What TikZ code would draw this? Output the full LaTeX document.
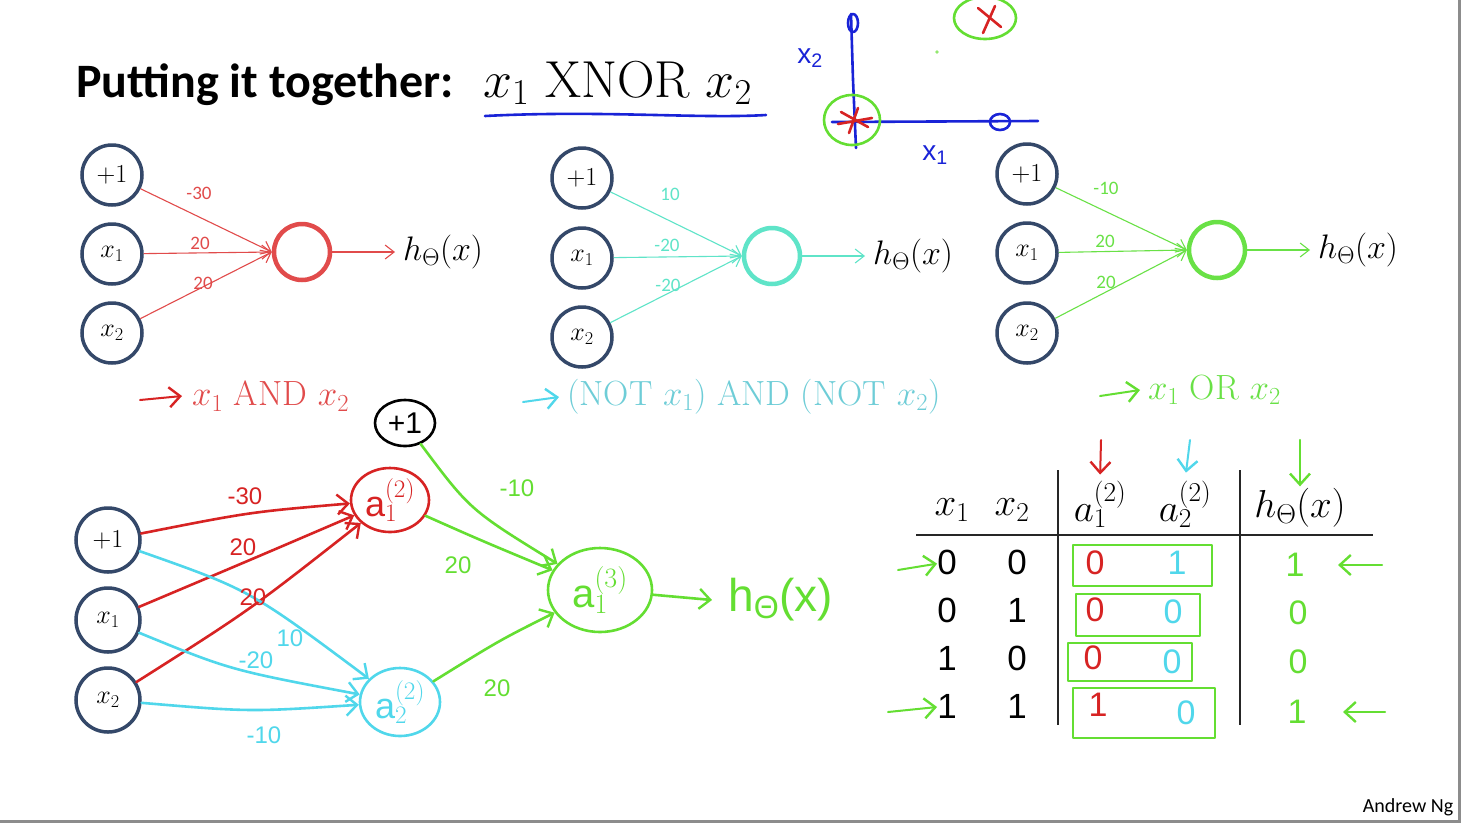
\RequirePackage{fix-cm}
\documentclass[tikz,border=0pt]{standalone}
\usepackage{fontspec}
\setsansfont{Liberation Sans}
\newfontfamily\slidefont{Carlito}
\newfontfamily\handfont{Liberation Sans}
\usetikzlibrary{arrows.meta,positioning,shapes.geometric}
\newcommand\pxfont[1]{\fontsize{#1}{#1}\selectfont}
\definecolor{unitblue}{RGB}{52,72,105}
\definecolor{andred}{RGB}{225,75,75}
\definecolor{noraqua}{RGB}{95,228,200}
\definecolor{orgreen}{RGB}{105,225,70}
\definecolor{capaqua}{RGB}{110,205,215}
\definecolor{handred}{RGB}{215,35,35}
\definecolor{handcyan}{RGB}{80,215,235}
\definecolor{handgreen}{RGB}{100,222,50}
\definecolor{handblue}{RGB}{25,35,215}
\tikzset{
  input unit/.style={circle,draw=unitblue,line width=3.5pt,minimum size=60pt,inner sep=0pt,font=\pxfont{26}},
  output unit/.style={circle,draw,line width=4.5pt,minimum size=56pt,inner sep=0pt},
  thin edge/.style={-{Straight Barb[length=9pt,width=14pt]},line width=1.1pt},
  weight/.style={font=\slidefont\pxfont{19},inner sep=0pt},
  caption/.style={font=\pxfont{35},inner sep=0pt,anchor=west},
  hand/.style={line width=2.6pt,line cap=round,line join=round},
  hand edge/.style={hand,-{Straight Barb[length=11pt,width=20pt,line width=2.4pt]}},
  hand node/.style={ellipse,draw,hand,inner sep=0pt,font=\handfont\pxfont{30}},
  hand label/.style={font=\handfont\pxfont{24},inner sep=0pt},
  thead/.style={font=\pxfont{39},inner sep=0pt},
  tdigit/.style={font=\sffamily\pxfont{35},inner sep=0pt},
  tmark/.style={font=\handfont\pxfont{34},inner sep=0pt},
}
\begin{document}
\begin{tikzpicture}[x=1pt,y=-1pt]
  \useasboundingbox[fill=white] (0,0) rectangle (1461,823);
  % title
  \node[anchor=base west,inner sep=0pt,font=\slidefont\bfseries\pxfont{48}] (title) at (76,97) {Putting it together:};
  \node[anchor=base west,inner sep=0pt,font=\pxfont{52}] (xnor) at (483,97) {$x_1\ \mathrm{XNOR}\ x_2$};
  \draw[hand,handblue] (485,116) .. controls (600,110) and (700,119) .. (766,115);

  % sketch of the four points
  \draw[hand,handblue] (851,14) -- (853,80) -- (856,148);
  \draw[hand,handblue] (832,122) -- (1038,121);
  \draw[hand,handblue] (853,23) ellipse (5 and 9);
  \draw[hand,handblue] (1000,122) ellipse (10 and 8);
  \node[hand label,text=handblue,font=\handfont\pxfont{28}] (lx2) at (810,58) {x\textsubscript{2}};
  \node[hand label,text=handblue,font=\handfont\pxfont{28}] (lx1) at (935,155) {x\textsubscript{1}};
  \draw[hand,handgreen] (852,120) ellipse (28 and 25);
  \draw[hand,handred] (841,112) -- (868,127);
  \draw[hand,handred] (858,108) -- (849,133);
  \draw[hand,handred] (838,124) -- (872,118);
  \draw[hand,handgreen] (985,18) ellipse (31 and 21);
  \draw[hand,handred] (978,8) -- (1001,27);
  \draw[hand,handred] (995,6) -- (983,33);
  \fill[handgreen!70] (937,52) circle (1.8);

  % AND network
  \node[input unit] (ap) at (112,175) {$+1$};
  \node[input unit] (ax1) at (112,254) {$x_1$};
  \node[input unit] (ax2) at (112,333) {$x_2$};
  \node[output unit,draw=andred] (aout) at (302,252) {};
  \node[anchor=west,inner sep=0pt,font=\pxfont{34}] (ah) at (403,252) {$h_\Theta(x)$};
  \draw[thin edge,andred] (ap) -- (aout.west);
  \draw[thin edge,andred] (ax1) -- (aout.west);
  \draw[thin edge,andred] (ax2) -- (aout.west);
  \draw[thin edge,andred] (aout) -- ([xshift=-8pt]ah.west);
  \node[weight,text=andred] (aw0) at (199,193) {-30};
  \node[weight,text=andred] (aw1) at (200,243) {20};
  \node[weight,text=andred] (aw2) at (203,283) {20};
  \coordinate (acap) at (140,400);
  \node[caption,text=andred] (acaption) at (192,396) {$x_1$ AND $x_2$};
  \draw[hand edge,handred,line width=2pt] (acap) -- ([xshift=-10pt]acaption.west);

  % NOT AND NOT network
  \node[input unit] (np) at (582,178) {$+1$};
  \node[input unit] (nx1) at (582,258) {$x_1$};
  \node[input unit] (nx2) at (582,337) {$x_2$};
  \node[output unit,draw=noraqua] (nout) at (772,256) {};
  \node[anchor=west,inner sep=0pt,font=\pxfont{34}] (nh) at (873,256) {$h_\Theta(x)$};
  \draw[thin edge,noraqua] (np) -- (nout.west);
  \draw[thin edge,noraqua] (nx1) -- (nout.west);
  \draw[thin edge,noraqua] (nx2) -- (nout.west);
  \draw[thin edge,noraqua] (nout) -- ([xshift=-8pt]nh.west);
  \node[weight,text=noraqua] (nw0) at (670,194) {10};
  \node[weight,text=noraqua] (nw1) at (667,245) {-20};
  \node[weight,text=noraqua] (nw2) at (668,285) {-20};
  \coordinate (ncap) at (523,402);
  \node[caption,text=capaqua] (ncaption) at (567,397) {(NOT $x_1$) AND (NOT $x_2$)};
  \draw[hand edge,handcyan,line width=2pt] (ncap) -- ([xshift=-8pt]ncaption.west);

  % OR network
  \node[input unit] (op) at (1027,174) {$+1$};
  \node[input unit] (ox1) at (1027,253) {$x_1$};
  \node[input unit] (ox2) at (1027,333) {$x_2$};
  \node[output unit,draw=orgreen] (oout) at (1217,250) {};
  \node[anchor=west,inner sep=0pt,font=\pxfont{34}] (oh) at (1318,250) {$h_\Theta(x)$};
  \draw[thin edge,orgreen] (op) -- (oout.west);
  \draw[thin edge,orgreen] (ox1) -- (oout.west);
  \draw[thin edge,orgreen] (ox2) -- (oout.west);
  \draw[thin edge,orgreen] (oout) -- ([xshift=-8pt]oh.west);
  \node[weight,text=orgreen] (ow0) at (1106,188) {-10};
  \node[weight,text=orgreen] (ow1) at (1105,241) {20};
  \node[weight,text=orgreen] (ow2) at (1106,282) {20};
  \coordinate (ocap) at (1100,396);
  \node[caption,text=orgreen] (ocaption) at (1148,390) {$x_1$ OR $x_2$};
  \draw[hand edge,handgreen,line width=2pt] (ocap) -- ([xshift=-8pt]ocaption.west);

  % XNOR network
  \node[input unit,minimum size=64pt] (bp) at (108,540) {$+1$};
  \node[input unit,minimum size=64pt] (bx1) at (108,620) {$x_1$};
  \node[input unit,minimum size=64pt] (bx2) at (108,700) {$x_2$};
  \node[hand node,draw=black,minimum width=60pt,minimum height=46pt] (hb) at (405,423) {+1};
  \node[hand node,draw=handred,text=handred,minimum width=78pt,minimum height=64pt,font=\pxfont{36}] (ha1) at (390,500) {$\mathsf{a}^{(2)}_1$};
  \node[hand node,draw=handcyan,text=handcyan,minimum width=80pt,minimum height=68pt,font=\pxfont{36}] (ha2) at (400,702) {$\mathsf{a}^{(2)}_2$};
  \node[hand node,draw=handgreen,text=handgreen,minimum width=104pt,minimum height=84pt,font=\pxfont{40}] (ha3) at (600,590) {$\mathsf{a}^{(3)}_1$};
  \node[anchor=west,inner sep=0pt,text=handgreen,font=\handfont\pxfont{46}] (hh) at (728,600) {h\textsubscript{Θ}(x)};
  \draw[hand edge,handred] (bp) .. controls (250,512) .. (ha1);
  \draw[hand edge,handred] (bx1) .. controls (250,560) .. (ha1);
  \draw[hand edge,handred] (bx2) .. controls (250,610) .. (ha1);
  \draw[hand edge,handcyan] (bp) .. controls (250,590) .. (ha2);
  \draw[hand edge,handcyan] (bx1) .. controls (230,670) .. (ha2);
  \draw[hand edge,handcyan] (bx2) .. controls (250,712) .. (ha2);
  \draw[hand edge,handgreen] (hb) .. controls (470,510) .. (ha3);
  \draw[hand edge,handgreen] (ha1) .. controls (480,540) .. (ha3);
  \draw[hand edge,handgreen] (ha2) .. controls (500,640) .. (ha3);
  \draw[hand edge,handgreen] (ha3) -- ([xshift=-16pt]hh.west);
  \node[hand label,text=handred] (bw0) at (245,496) {-30};
  \node[hand label,text=handred] (bw1) at (243,547) {20};
  \node[hand label,text=handred] (bw2) at (253,597) {20};
  \node[hand label,text=handcyan] (bw3) at (290,638) {10};
  \node[hand label,text=handcyan] (bw4) at (256,660) {-20};
  \node[hand label,text=handcyan] (bw5) at (264,735) {-10};
  \node[hand label,text=handgreen] (bw6) at (517,488) {-10};
  \node[hand label,text=handgreen] (bw7) at (458,565) {20};
  \node[hand label,text=handgreen] (bw8) at (497,688) {20};

  % truth table
  \node[thead] (tx1) at (952,510) {$x_1$};
  \node[thead] (tx2) at (1012,510) {$x_2$};
  \node[thead] (ta1) at (1100,504) {$a^{(2)}_1$};
  \node[thead] (ta2) at (1185,504) {$a^{(2)}_2$};
  \node[thead] (th) at (1300,508) {$h_\Theta(x)$};
  \draw[black!85,line width=2pt] (916,535) -- (1373,535);
  \draw[black!85,line width=2pt] (1058,470) -- (1058,725);
  \draw[black!85,line width=2pt] (1240,470) -- (1240,725);
  \node[tdigit] (r1x1) at (947,562) {0};
  \node[tdigit] (r1x2) at (1017,562) {0};
  \node[tdigit] (r2x1) at (947,610) {0};
  \node[tdigit] (r2x2) at (1017,610) {1};
  \node[tdigit] (r3x1) at (947,658) {1};
  \node[tdigit] (r3x2) at (1017,658) {0};
  \node[tdigit] (r4x1) at (947,706) {1};
  \node[tdigit] (r4x2) at (1017,706) {1};
  \node[tmark,text=handred] (r1a1) at (1095,563) {0};
  \node[tmark,text=handred] (r2a1) at (1095,610) {0};
  \node[tmark,text=handred] (r3a1) at (1093,658) {0};
  \node[tmark,text=handred] (r4a1) at (1098,705) {1};
  \node[tmark,text=handcyan] (r1a2) at (1177,563) {1};
  \node[tmark,text=handcyan] (r2a2) at (1173,612) {0};
  \node[tmark,text=handcyan] (r3a2) at (1172,662) {0};
  \node[tmark,text=handcyan] (r4a2) at (1186,713) {0};
  \node[tmark,text=handgreen] (r1h) at (1295,565) {1};
  \node[tmark,text=handgreen] (r2h) at (1298,613) {0};
  \node[tmark,text=handgreen] (r3h) at (1298,662) {0};
  \node[tmark,text=handgreen] (r4h) at (1297,712) {1};
  \draw[hand,handgreen] (1073,545) rectangle (1212,586);
  \draw[hand,handgreen] (1076,594) rectangle (1200,636);
  \draw[hand,handgreen] (1068,643) rectangle (1192,681);
  \draw[hand,handgreen] (1073,688) rectangle (1215,738);
  \coordinate (l1) at (898,570);
  \coordinate (l4) at (888,712);
  \coordinate (e1) at (1382,565);
  \coordinate (e4) at (1385,712);
  \coordinate (d1) at (1101,440);
  \coordinate (d2) at (1190,440);
  \coordinate (d3) at (1300,440);
  \draw[hand edge,handgreen,line width=2pt] (l1) -- (r1x1);
  \draw[hand edge,handgreen,line width=2pt] (l4) -- (r4x1);
  \draw[hand edge,handgreen,line width=2pt] (e1) -- ([xshift=-44pt]e1);
  \draw[hand edge,handgreen,line width=2pt] (e4) -- ([xshift=-42pt]e4);
  \draw[hand edge,handred,line width=2pt,shorten >=6pt] (d1) -- (ta1.north);
  \draw[hand edge,handcyan,line width=2pt,shorten >=8pt] (d2) -- (ta2.north);
  \draw[hand edge,handgreen,line width=2.4pt,shorten >=2pt] (d3) -- (th.north);

  % footer
  \node[inner sep=0pt,font=\slidefont\pxfont{20}] (author) at (1408,807) {Andrew Ng};
  \draw[black!45,line width=3pt] (1459,0) -- (1459,821) -- (0,821);
\end{tikzpicture}
\end{document}
